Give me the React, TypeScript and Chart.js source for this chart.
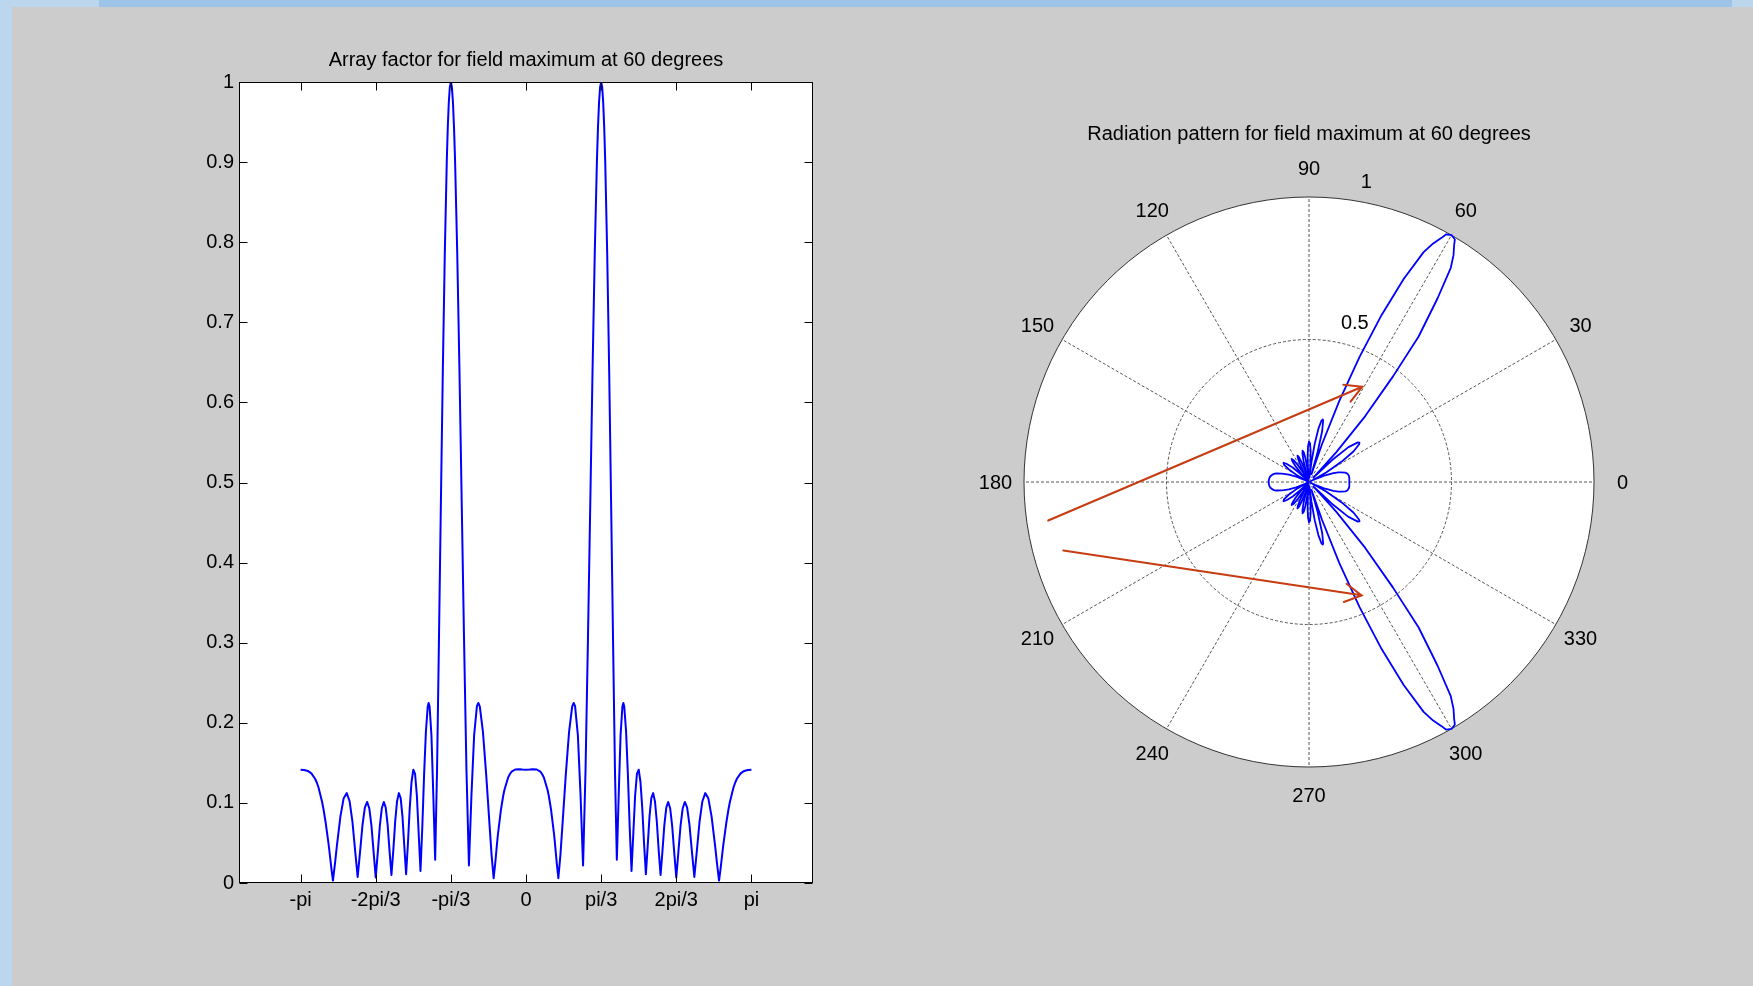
import React, { useEffect, useRef } from 'react';
import { Chart, registerables } from 'chart.js';

Chart.register(...registerables);

const FONT = "'Liberation Sans', Arial, Helvetica, sans-serif";
Chart.defaults.font.family = FONT;
Chart.defaults.color = '#000';

// Angle (radians) of each sample
const thetaRad = [
  -3.1416, -3.0916, -3.0416, -2.9916, -2.9416, -2.9175, -2.8916, -2.8416, -2.824, -2.7916,
  -2.7518, -2.7416, -2.7116, -2.6906, -2.6616, -2.6362, -2.5868, -2.541, -2.4981, -2.4576,
  -2.4189, -2.3818, -2.3462, -2.3118, -2.2784, -2.2459, -2.2143, -2.1834, -2.1532, -2.1235,
  -2.0944, -2.0657, -2.0376, -2.0098, -1.9823, -1.9552, -1.9284, -1.9018, -1.8755, -1.8494,
  -1.8235, -1.7977, -1.7722, -1.7467, -1.7214, -1.6961, -1.671, -1.6459, -1.6208, -1.5958,
  -1.5708, -1.5458, -1.5208, -1.4957, -1.4706, -1.4455, -1.4202, -1.3949, -1.3694, -1.3567,
  -1.3439, -1.3181, -1.2922, -1.2661, -1.2398, -1.2132, -1.1864, -1.1593, -1.1318, -1.104,
  -1.09, -1.0759, -1.0616, -1.0472, -1.0327, -1.0181, -1.0034, -0.9884, -0.9582, -0.9273,
  -0.8957, -0.8632, -0.8298, -0.7954, -0.7598, -0.7227, -0.684, -0.6641, -0.6435, -0.6006,
  -0.5548, -0.5054, -0.48, -0.451, -0.43, -0.4, -0.3898, -0.35, -0.3176, -0.3,
  -0.25, -0.2241, -0.2, -0.15, -0.1, -0.05,
  0,
  0.05, 0.1, 0.15, 0.2, 0.2241, 0.25,
  0.3, 0.3176, 0.35, 0.3898, 0.4, 0.43, 0.451, 0.48, 0.5054, 0.5548,
  0.6006, 0.6435, 0.6641, 0.684, 0.7227, 0.7598, 0.7954, 0.8298, 0.8632, 0.8957,
  0.9273, 0.9582, 0.9884, 1.0034, 1.0181, 1.0327, 1.0472, 1.0616, 1.0759, 1.09,
  1.104, 1.1318, 1.1593, 1.1864, 1.2132, 1.2398, 1.2661, 1.2922, 1.3181, 1.3439,
  1.3567, 1.3694, 1.3949, 1.4202, 1.4455, 1.4706, 1.4957, 1.5208, 1.5458, 1.5708,
  1.5958, 1.6208, 1.6459, 1.671, 1.6961, 1.7214, 1.7467, 1.7722, 1.7977, 1.8235,
  1.8494, 1.8755, 1.9018, 1.9284, 1.9552, 1.9823, 2.0098, 2.0376, 2.0657, 2.0944,
  2.1235, 2.1532, 2.1834, 2.2143, 2.2459, 2.2784, 2.3118, 2.3462, 2.3818, 2.4189,
  2.4576, 2.4981, 2.541, 2.5868, 2.6362, 2.6616, 2.6906, 2.7116, 2.7416, 2.7518,
  2.7916, 2.824, 2.8416, 2.8916, 2.9175, 2.9416, 2.9916, 3.0416, 3.0916, 3.1416,
];

// Array factor magnitude at each sample
const afValues = [
  0.1414, 0.1411, 0.1399, 0.1369, 0.1305, 0.1258, 0.1192, 0.1012, 0.093, 0.0752,
  0.0487, 0.0412, 0.0175, 0.003, 0.0247, 0.046, 0.0829, 0.1059, 0.1122, 0.1017,
  0.0765, 0.0408, 0.0075, 0.0398, 0.0727, 0.0942, 0.1012, 0.093, 0.0709, 0.0383,
  0.007, 0.0383, 0.0709, 0.093, 0.1012, 0.0942, 0.0727, 0.0398, 0.01, 0.0408,
  0.0765, 0.1017, 0.1122, 0.1059, 0.0829, 0.046, 0.011, 0.0487, 0.093, 0.1258,
  0.1414, 0.1361, 0.1089, 0.0618, 0.015, 0.0689, 0.1353, 0.1891, 0.2203, 0.2248,
  0.2207, 0.1848, 0.1106, 0.029, 0.141, 0.3029, 0.4736, 0.6392, 0.786, 0.9013,
  0.9437, 0.9747, 0.9936, 1.0, 0.9936, 0.9747, 0.9437, 0.9013, 0.786, 0.6392,
  0.4736, 0.3029, 0.141, 0.022, 0.1106, 0.1848, 0.2207, 0.2248, 0.2203, 0.1891,
  0.1353, 0.0689, 0.0355, 0.006, 0.0234, 0.0529, 0.0618, 0.0911, 0.1089, 0.1165,
  0.1315, 0.1361, 0.139, 0.1417, 0.1421, 0.1417,
  0.1414,
  0.1417, 0.1421, 0.1417, 0.139, 0.1361, 0.1315,
  0.1165, 0.1089, 0.0911, 0.0618, 0.0529, 0.0234, 0.006, 0.0355, 0.0689, 0.1353,
  0.1891, 0.2203, 0.2248, 0.2207, 0.1848, 0.1106, 0.022, 0.141, 0.3029, 0.4736,
  0.6392, 0.786, 0.9013, 0.9437, 0.9747, 0.9936, 1.0, 0.9936, 0.9747, 0.9437,
  0.9013, 0.786, 0.6392, 0.4736, 0.3029, 0.141, 0.029, 0.1106, 0.1848, 0.2207,
  0.2248, 0.2203, 0.1891, 0.1353, 0.0689, 0.015, 0.0618, 0.1089, 0.1361, 0.1414,
  0.1258, 0.093, 0.0487, 0.011, 0.046, 0.0829, 0.1059, 0.1122, 0.1017, 0.0765,
  0.0408, 0.01, 0.0398, 0.0727, 0.0942, 0.1012, 0.093, 0.0709, 0.0383, 0.007,
  0.0383, 0.0709, 0.093, 0.1012, 0.0942, 0.0727, 0.0398, 0.0075, 0.0408, 0.0765,
  0.1017, 0.1122, 0.1059, 0.0829, 0.046, 0.0247, 0.003, 0.0175, 0.0412, 0.0487,
  0.0752, 0.093, 0.1012, 0.1192, 0.1258, 0.1305, 0.1369, 0.1399, 0.1411, 0.1414,
];

const xTickValues = [-3.14159, -2.0944, -1.0472, 0, 1.0472, 2.0944, 3.14159];
const xTickLabels = ['-pi', '-2pi/3', '-pi/3', '0', 'pi/3', '2pi/3', 'pi'];
const yTickValues = [0, 0.1, 0.2, 0.3, 0.4, 0.5, 0.6, 0.7, 0.8, 0.9, 1];
const yTickLabels = ['0', '0.1', '0.2', '0.3', '0.4', '0.5', '0.6', '0.7', '0.8', '0.9', '1'];

const polarAngleTicks = [0, 30, 60, 90, 120, 150, 180, 210, 240, 270, 300, 330];
const polarRadialTicks = [0.5, 1];
const polarRadialLabels = ['0.5', '1'];

// Red annotation arrows (polar degrees / radius)
const arrowTailDeg = [188.4, 195.6];
const arrowTailR = [0.925, 0.895];
const arrowTipDeg = [60.8, 294.9];
const arrowTipR = [0.383, 0.4385];

const POLAR_STEP = 0.5;
const POLAR_N = 720;

function ArrayFactorChart() {
  const ref = useRef<HTMLCanvasElement>(null);
  useEffect(() => {
    const boxPlugin = {
      id: 'matlabBox',
      beforeDraw(chart: any) {
        const { ctx, chartArea: a } = chart;
        ctx.save();
        ctx.fillStyle = '#ffffff';
        ctx.fillRect(a.left, a.top, a.right - a.left, a.bottom - a.top);
        ctx.restore();
      },
      afterDatasetsDraw(chart: any) {
        const { ctx, chartArea: a, scales } = chart;
        const L = Math.round(a.left) + 0.5;
        const R = Math.round(a.right) - 0.5;
        const T = Math.round(a.top) + 0.5;
        const B = Math.round(a.bottom) - 0.5;
        const tl = 8;
        ctx.save();
        ctx.strokeStyle = '#000';
        ctx.lineWidth = 1;
        ctx.strokeRect(L, T, R - L, B - T);
        ctx.beginPath();
        xTickValues.forEach((v) => {
          const x = Math.round(scales.x.getPixelForValue(v)) + 0.5;
          ctx.moveTo(x, B);
          ctx.lineTo(x, B - tl);
          ctx.moveTo(x, T);
          ctx.lineTo(x, T + tl);
        });
        yTickValues.forEach((v) => {
          const y = Math.round(scales.y.getPixelForValue(v)) + 0.5;
          ctx.moveTo(L, y);
          ctx.lineTo(L + tl, y);
          ctx.moveTo(R, y);
          ctx.lineTo(R - tl, y);
        });
        ctx.stroke();
        ctx.restore();
      },
    };
    const chart = new Chart(ref.current as HTMLCanvasElement, {
      type: 'scatter',
      data: {
        datasets: [
          {
            data: thetaRad.map((t, i) => ({ x: t, y: afValues[i] })),
            showLine: true,
            borderColor: '#0000ff',
            borderWidth: 2,
            pointRadius: 0,
            tension: 0,
            borderJoinStyle: 'round',
          },
        ],
      },
      options: {
        animation: false,
        responsive: false,
        devicePixelRatio: 1,
        events: [],
        layout: { padding: 0 },
        plugins: {
          legend: { display: false },
          tooltip: { enabled: false },
          title: {
            display: true,
            text: 'Array factor for field maximum at 60 degrees',
            color: '#000',
            font: { family: FONT, size: 20, weight: 'normal' },
            padding: { top: 23, bottom: 10 },
          },
        },
        scales: {
          x: {
            type: 'linear',
            min: -4,
            max: 4,
            afterBuildTicks: (s: any) => {
              s.ticks = xTickValues.map((v) => ({ value: v }));
            },
            afterFit: (s: any) => {
              s.height = 50;
            },
            grid: { display: false, drawTicks: false },
            border: { display: false },
            ticks: {
              autoSkip: false,
              maxRotation: 0,
              padding: 5,
              color: '#000',
              font: { family: FONT, size: 20 },
              callback: (_v: any, i: number) => xTickLabels[i],
            },
          },
          y: {
            type: 'linear',
            min: 0,
            max: 1,
            afterBuildTicks: (s: any) => {
              s.ticks = yTickValues.map((v) => ({ value: v }));
            },
            afterFit: (s: any) => {
              s.width = 60;
            },
            grid: { display: false, drawTicks: false },
            border: { display: false },
            ticks: {
              autoSkip: false,
              padding: 5,
              color: '#000',
              font: { family: FONT, size: 20 },
              callback: (_v: any, i: number) => yTickLabels[i],
            },
          },
          y2: {
            type: 'linear',
            position: 'right',
            display: true,
            grid: { display: false, drawTicks: false },
            border: { display: false },
            ticks: { display: false },
            afterFit: (s: any) => {
              s.width = 60;
            },
          },
        },
      } as any,
      plugins: [boxPlugin],
    });
    return () => chart.destroy();
  }, []);
  return (
    <canvas
      ref={ref}
      width={694}
      height={908}
      style={{ position: 'absolute', left: 179, top: 25, width: 694, height: 908 }}
    />
  );
}

function RadiationChart() {
  const ref = useRef<HTMLCanvasElement>(null);
  useEffect(() => {
    const labels = Array.from({ length: POLAR_N }, (_, i) => {
      const a = (((90 - i * POLAR_STEP) % 360) + 360) % 360;
      return polarAngleTicks.includes(a) ? String(a) : '';
    });
    const values: (number | null)[] = new Array(POLAR_N).fill(null);
    thetaRad.forEach((t, i) => {
      const deg = (t * 180) / Math.PI;
      const idx = ((Math.round((90 - deg) / POLAR_STEP) % POLAR_N) + POLAR_N) % POLAR_N;
      values[idx] = afValues[i];
    });

    const polarPlugin = {
      id: 'matlabPolar',
      beforeDraw(chart: any) {
        const s = chart.scales.r;
        const ctx = chart.ctx;
        ctx.save();
        ctx.fillStyle = '#ffffff';
        ctx.beginPath();
        ctx.arc(s.xCenter, s.yCenter, s.drawingArea, 0, Math.PI * 2);
        ctx.fill();
        ctx.restore();
      },
      afterDatasetsDraw(chart: any) {
        const s = chart.scales.r;
        const ctx = chart.ctx;
        const pos = (deg: number, r: number) => {
          const d = s.getDistanceFromCenterForValue(r);
          const a = (deg * Math.PI) / 180;
          return { x: s.xCenter + d * Math.cos(a), y: s.yCenter - d * Math.sin(a) };
        };
        ctx.save();
        ctx.strokeStyle = 'rgb(198,60,18)';
        ctx.lineWidth = 2;
        ctx.lineCap = 'round';
        for (let k = 0; k < arrowTailDeg.length; k++) {
          const p0 = pos(arrowTailDeg[k], arrowTailR[k]);
          const p1 = pos(arrowTipDeg[k], arrowTipR[k]);
          const back = Math.atan2(p0.y - p1.y, p0.x - p1.x);
          const hl = 19;
          const ha = (29 * Math.PI) / 180;
          ctx.beginPath();
          ctx.moveTo(p0.x, p0.y);
          ctx.lineTo(p1.x, p1.y);
          ctx.moveTo(p1.x + hl * Math.cos(back + ha), p1.y + hl * Math.sin(back + ha));
          ctx.lineTo(p1.x, p1.y);
          ctx.lineTo(p1.x + hl * Math.cos(back - ha), p1.y + hl * Math.sin(back - ha));
          ctx.stroke();
        }
        ctx.restore();
      },
      afterDraw(chart: any) {
        const s = chart.scales.r;
        const ctx = chart.ctx;
        ctx.save();
        ctx.fillStyle = '#000';
        ctx.font = `20px ${FONT}`;
        // angle labels, centred at 1.1 x outer radius
        ctx.textAlign = 'center';
        ctx.textBaseline = 'middle';
        const outer = s.getDistanceFromCenterForValue(1) * 1.1;
        polarAngleTicks.forEach((deg) => {
          const a = (deg * Math.PI) / 180;
          ctx.fillText(String(deg), s.xCenter + outer * Math.cos(a), s.yCenter - outer * Math.sin(a) + 1);
        });
        // radial tick labels along the 82 degree direction
        ctx.textAlign = 'left';
        ctx.textBaseline = 'bottom';
        const lead = ctx.measureText('  ').width;
        const a = (82 * Math.PI) / 180;
        polarRadialTicks.forEach((v, i) => {
          const d = s.getDistanceFromCenterForValue(v + 0.025);
          const x = s.xCenter + d * Math.cos(a) + lead;
          const y = s.yCenter - d * Math.sin(a);
          ctx.fillText(polarRadialLabels[i], x, y);
        });
        ctx.restore();
      },
    };

    const chart = new Chart(ref.current as HTMLCanvasElement, {
      type: 'radar',
      data: {
        labels,
        datasets: [
          {
            data: values,
            borderColor: '#0000ff',
            borderWidth: 1.8,
            pointRadius: 0,
            pointHoverRadius: 0,
            fill: false,
            spanGaps: true,
            tension: 0,
            borderJoinStyle: 'round',
          },
        ],
      },
      options: {
        animation: false,
        responsive: false,
        devicePixelRatio: 1,
        events: [],
        layout: { padding: { top: 0, left: 0, right: 0, bottom: 50 } },
        plugins: {
          legend: { display: false },
          tooltip: { enabled: false },
          title: {
            display: true,
            text: 'Radiation pattern for field maximum at 60 degrees',
            color: '#000',
            font: { family: FONT, size: 20, weight: 'normal' },
            padding: { top: 22, bottom: 51 },
          },
        },
        scales: {
          r: {
            min: 0,
            max: 1,
            startAngle: 0,
            ticks: { display: false, stepSize: 0.5 },
            grid: {
              circular: true,
              color: (c: any) => (c.tick && c.tick.value >= 1 ? '#333333' : '#555555'),
              lineWidth: 1,
            },
            border: {
              dash: (c: any) => (c.tick && c.tick.value >= 1 ? [] : [3, 2]),
            },
            angleLines: {
              display: true,
              color: (c: any) => (labels[c.index] ? '#555555' : 'rgba(0,0,0,0)'),
              lineWidth: (c: any) => (labels[c.index] ? 1 : 0),
              borderDash: [3, 2],
            },
            pointLabels: { display: false },
          },
        },
      } as any,
      plugins: [polarPlugin],
    });
    return () => chart.destroy();
  }, []);
  return (
    <canvas
      ref={ref}
      width={760}
      height={717}
      style={{ position: 'absolute', left: 929, top: 100, width: 760, height: 717 }}
    />
  );
}

export default function App() {
  return (
    <div
      style={{
        position: 'absolute',
        left: 0,
        top: 0,
        width: 1753,
        height: 986,
        background: '#cccccc',
        overflow: 'hidden',
        fontFamily: FONT,
      }}
    >
      <div style={{ position: 'absolute', left: 0, top: 0, width: 12, height: 986, background: '#bcd6ee' }} />
      <div style={{ position: 'absolute', left: 0, top: 0, width: 99, height: 7, background: '#bcd6ee' }} />
      <div style={{ position: 'absolute', left: 99, top: 0, width: 1633, height: 7, background: '#9dc3e8' }} />
      <div style={{ position: 'absolute', left: 1732, top: 0, width: 21, height: 7, background: '#bcd6ee' }} />
      <ArrayFactorChart />
      <RadiationChart />
    </div>
  );
}
